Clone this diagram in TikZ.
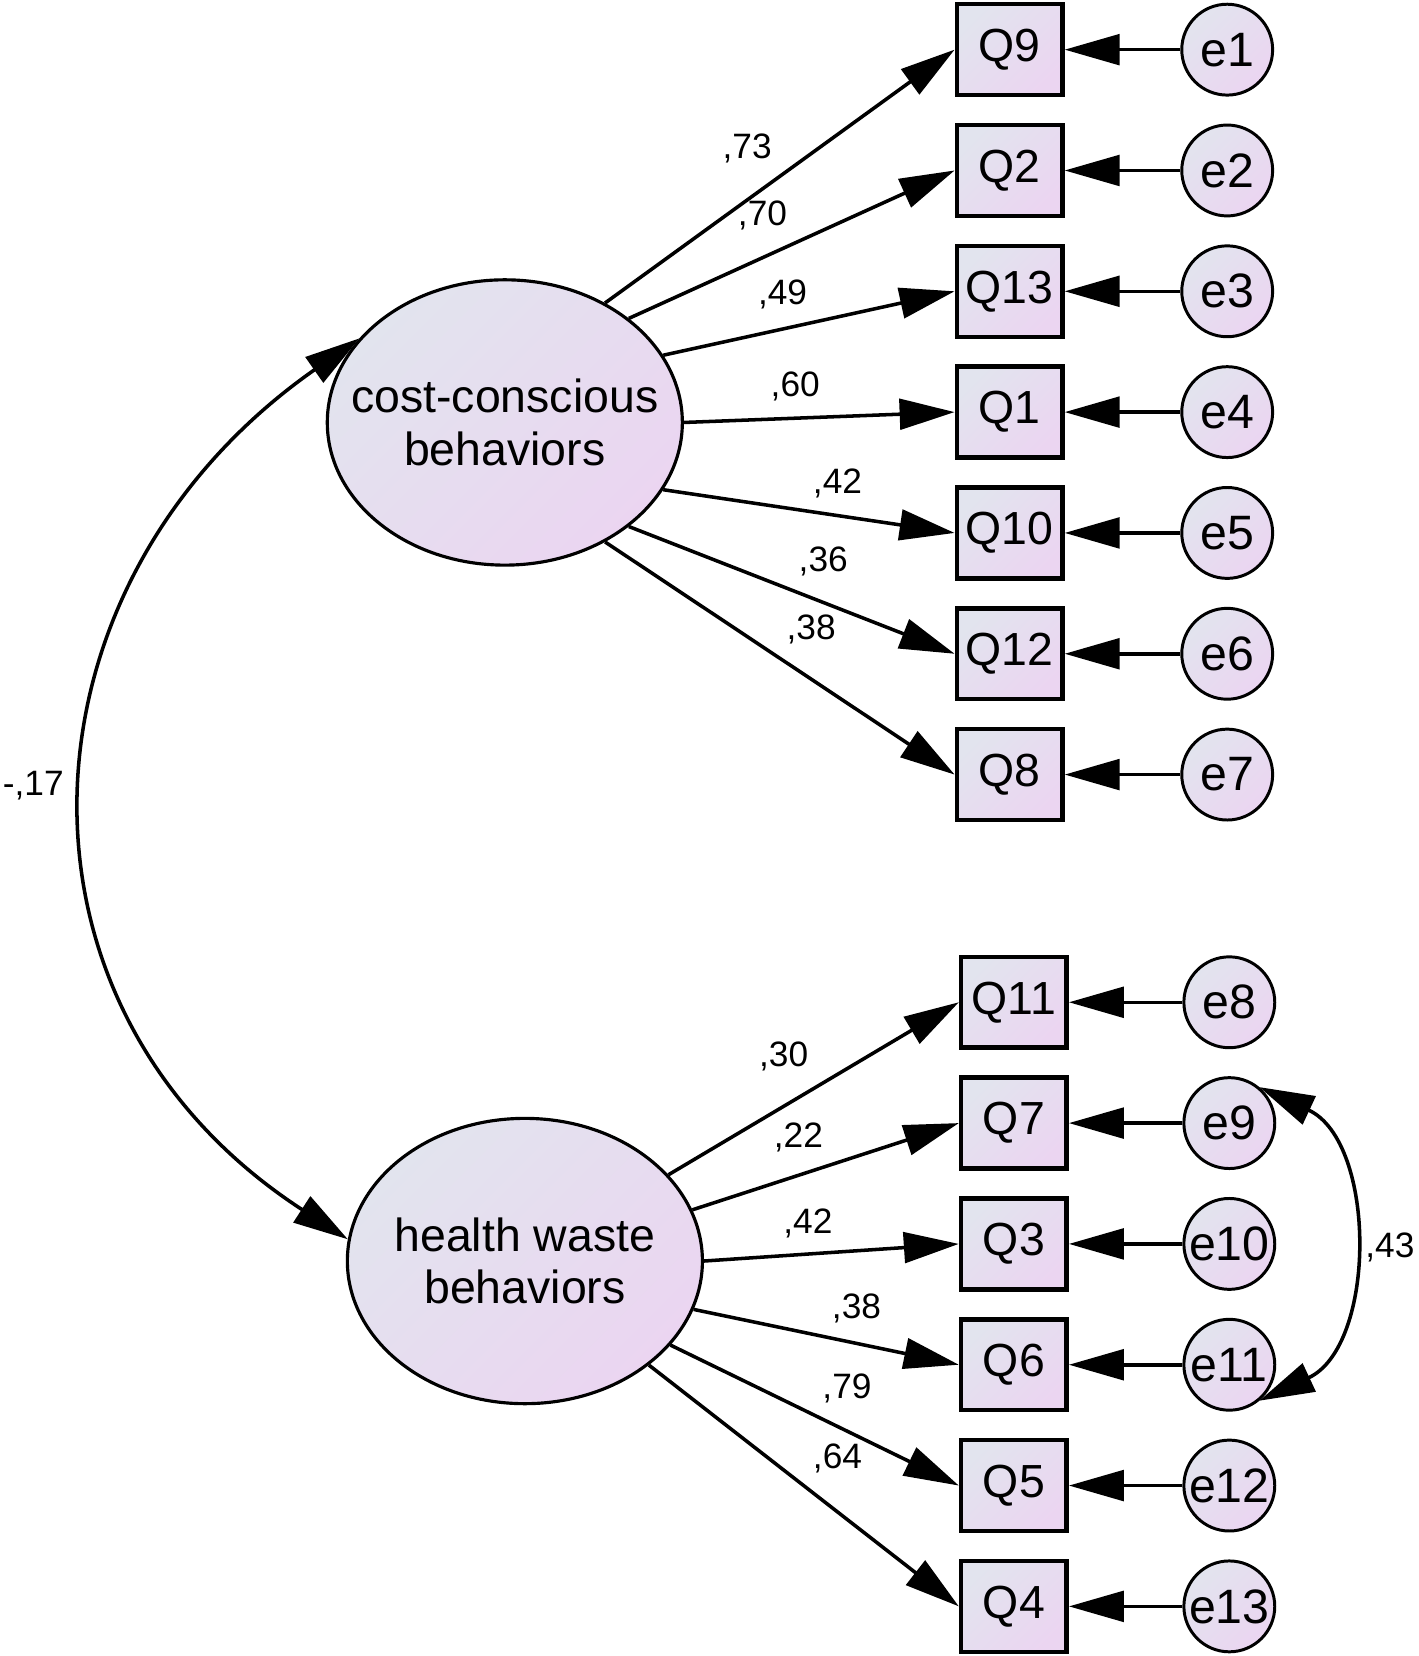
\documentclass[tikz,border=0pt]{standalone}
\usepackage{fontspec}
\setmainfont{Liberation Sans}
\usetikzlibrary{arrows.meta,shapes.geometric}

\definecolor{fillA}{RGB}{226,228,238}
\definecolor{fillB}{RGB}{235,213,241}

\tikzset{
	amosfill/.style={top color=fillA, bottom color=fillB, shading angle=45},
	lat/.style={ellipse, draw, line width=0.85pt, amosfill, minimum width=3.36cm, minimum height=2.70cm, inner sep=0pt},
	latname/.style={align=center, font=\fontsize{12.5}{14.2}\selectfont},
	obs/.style={rectangle, draw, line width=1.2pt, amosfill, minimum width=1cm, minimum height=0.86cm, inner sep=0pt, font=\fontsize{12.5}{15}\selectfont},
	res/.style={circle, draw, line width=0.8pt, amosfill, minimum size=0.86cm, inner sep=0pt, font=\fontsize{13}{15}\selectfont},
	load/.style={line width=0.95pt, -{Triangle[length=0.52cm,width=0.29cm]}},
	covar/.style={line width=0.95pt, {Triangle[length=0.52cm,width=0.29cm]}-{Triangle[length=0.52cm,width=0.29cm]}},
	coef/.style={font=\fontsize{9.5}{11}\selectfont, inner sep=0pt},
}

\begin{document}
\begin{tikzpicture}[x=0.01cm, y=0.01cm]
		\useasboundingbox (0,0) rectangle (1343,-1568);
		
		% latent factors
		\node[lat, label={[latname]center:{cost-conscious\\behaviors}}] (cc) at (478,-400) {};
		\node[lat, label={[latname]center:{health waste\\behaviors}}] (hw) at (497,-1194) {};
		
		% items, first factor
		\node[obs] (q9)  at (956,-47)    {Q9};
		\node[obs] (q2)  at (956,-161.4) {Q2};
		\node[obs] (q13) at (956,-275.8) {Q13};
		\node[obs] (q1)  at (956,-390.2) {Q1};
		\node[obs] (q10) at (956,-504.6) {Q10};
		\node[obs] (q12) at (956,-619)   {Q12};
		\node[obs] (q8)  at (956,-733.4) {Q8};
		
		% items, second factor
		\node[obs] (q11) at (960,-949)    {Q11};
		\node[obs] (q7)  at (960,-1063.4) {Q7};
		\node[obs] (q3)  at (960,-1177.8) {Q3};
		\node[obs] (q6)  at (960,-1292.2) {Q6};
		\node[obs] (q5)  at (960,-1406.6) {Q5};
		\node[obs] (q4)  at (960,-1521)   {Q4};
		
		% error terms
		\node[res] (e1)  at (1162,-47)    {e1};
		\node[res] (e2)  at (1162,-161.4) {e2};
		\node[res] (e3)  at (1162,-275.8) {e3};
		\node[res] (e4)  at (1162,-390.2) {e4};
		\node[res] (e5)  at (1162,-504.6) {e5};
		\node[res] (e6)  at (1162,-619)   {e6};
		\node[res] (e7)  at (1162,-733.4) {e7};
		\node[res] (e8)  at (1164,-949)    {e8};
		\node[res] (e9)  at (1164,-1063.4) {e9};
		\node[res] (e10) at (1164,-1177.8) {e10};
		\node[res] (e11) at (1164,-1292.2) {e11};
		\node[res] (e12) at (1164,-1406.6) {e12};
		\node[res] (e13) at (1164,-1521)   {e13};
		
		% loadings
		\draw[load] (cc.50.6) -- (q9.west);
		\draw[load] (cc.40.3) -- (q2.west);
		\draw[load] (cc.23.3) -- (q13.west);
		\draw[load] (cc.0)    -- (q1.west);
		\draw[load] (cc.-23.7) -- (q10.west);
		\draw[load] (cc.-40.4) -- (q12.west);
		\draw[load] (cc.-50.6) -- (q8.west);
		
		\draw[load] (hw.31)   -- (q11.west);
		\draw[load] (hw.17.4) -- (q7.west);
		\draw[load] (hw.0.7)  -- (q3.west);
		\draw[load] (hw.-16.5) -- (q6.west);
		\draw[load] (hw.-30.3) -- (q5.west);
		\draw[load] (hw.-40)  -- (q4.west);
		
		\draw[load] (e1) -- (q9);
		\draw[load] (e2) -- (q2);
		\draw[load] (e3) -- (q13);
		\draw[load] (e4) -- (q1);
		\draw[load] (e5) -- (q10);
		\draw[load] (e6) -- (q12);
		\draw[load] (e7) -- (q8);
		\draw[load] (e8) -- (q11);
		\draw[load] (e9) -- (q7);
		\draw[load] (e10) -- (q3);
		\draw[load] (e11) -- (q6);
		\draw[load] (e12) -- (q5);
		\draw[load] (e13) -- (q4);
		
		% covariances
		\draw[covar] (cc.150) to[out=215, in=147, looseness=1.21] (hw.173);
		\draw[covar] (e9.50) to[out=-25, in=25, looseness=1.06] (e11.-50);
		
		% estimates
		\node[coef] (w1) at (707.5,-140.5) {,73};
		\node[coef] (w2) at (722,-204)     {,70};
		\node[coef] (w3) at (741,-279)     {,49};
		\node[coef] (w4) at (753,-366)     {,60};
		\node[coef] (w5) at (793,-457.6)   {,42};
		\node[coef] (w6) at (779.5,-532)   {,36};
		\node[coef] (w7) at (768,-596)     {,38};
		\node[coef] (w8) at (742,-1000)    {,30};
		\node[coef] (w9) at (756,-1077)    {,22};
		\node[coef] (w10) at (765,-1158)   {,42};
		\node[coef] (w11) at (811,-1239)   {,38};
		\node[coef] (w12) at (802,-1315)   {,79};
		\node[coef] (w13) at (793,-1381)   {,64};
		\node[coef, anchor=east] (r1) at (61,-744) {-,17};
		\node[coef] (r2) at (1316,-1181) {,43};
\end{tikzpicture}
\end{document}
